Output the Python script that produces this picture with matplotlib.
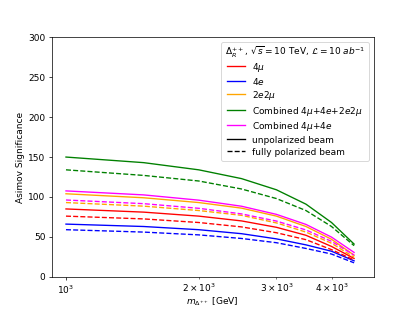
import numpy as np
import matplotlib
matplotlib.use("Agg")
from matplotlib import pyplot as plt

# masses [GeV]
mass = [1000, 1500, 2000, 2500, 3000, 3500, 4000, 4500]

# unpolarized beam
sig_4mu = [85, 81, 76, 70, 62, 52, 38, 23]
sig_4e = [66, 63, 59, 54, 47.5, 40, 32, 20]
sig_2e2mu = [104, 99, 93, 86, 76, 63, 47, 27]
sig_4mu4e = [107.6, 102.6, 96.0, 88.4, 78.2, 65.6, 49.7, 30.5]
sig_all = [150, 143, 134, 123, 109, 91, 68, 41]

# fully polarized beam
pol_4mu = [76, 72.5, 68, 62.5, 55.2, 46.5, 34, 21]
pol_4e = [59, 56, 52.5, 48, 42.7, 35.5, 28.5, 17.5]
pol_2e2mu = [93, 88.5, 83, 77, 67.5, 56, 42, 24.5]
pol_4mu4e = [96.2, 91.6, 85.8, 78.8, 69.8, 58.7, 44.4, 27.2]
pol_all = [134, 127, 120, 110, 98, 83, 63, 39]

labels = [r"$4\mu$", r"$4e$", r"$2e2\mu$",
          r"Combined $4\mu$+$4e$+$2e2\mu$", r"Combined $4\mu$+$4e$"]
colors = ["red", "blue", "orange", "green", "magenta"]
unpol = [sig_4mu, sig_4e, sig_2e2mu, sig_all, sig_4mu4e]
pol = [pol_4mu, pol_4e, pol_2e2mu, pol_all, pol_4mu4e]

fig = plt.figure(figsize=(415 / 65, 311 / 65), dpi=65)
ax = fig.add_subplot(111)

for y, c, lab in zip(unpol, colors, labels):
    ax.plot(mass, y, color=c, linestyle="-", label=lab)
for y, c in zip(pol, colors):
    ax.plot(mass, y, color=c, linestyle="--")

ax.plot([], [], color="black", linestyle="-", label="unpolarized beam")
ax.plot([], [], color="black", linestyle="--", label="fully polarized beam")

ax.set_xscale("log")
ax.set_xlim(929, 4980)
ax.set_ylim(0, 300)
ax.set_xlabel(r"$m_{\Delta^{++}}$ [GeV]", labelpad=0)
ax.set_ylabel("Asimov Significance")
leg = ax.legend(loc="upper right", handleheight=1.3, labelspacing=0.25,
                title=r"$\Delta_R^{++}$, $\sqrt{s}=10$ TeV, $\mathcal{L}=10$ $ab^{-1}$")
# tighten the gap under the (tall) mathtext title
leg._legend_box.sep = 0.5

fig.savefig("out.png", dpi=65)
